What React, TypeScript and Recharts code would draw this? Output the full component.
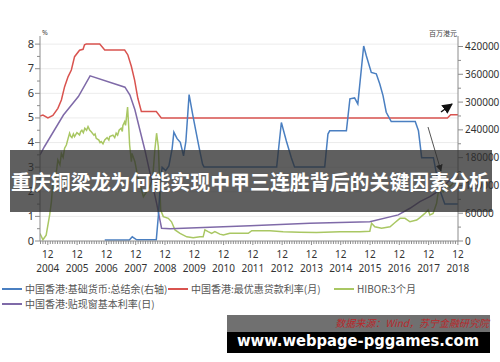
import { CartesianGrid, Line, LineChart, XAxis, YAxis } from 'recharts';

// 基础货币总结余 (百万港元, right axis)
const aggregateBalance: [number, number][] = [
  [2006.86, 2000], [2007.7, 2000], [2007.8, 9000], [2007.95, 2500],
  [2008.62, 2500], [2008.69, 54000], [2008.77, 134000], [2008.82, 159000], [2008.94, 152000],
  [2009.05, 162000], [2009.16, 199000], [2009.22, 235000], [2009.33, 221000], [2009.44, 213000],
  [2009.55, 184000], [2009.63, 215000], [2009.74, 316000], [2009.86, 274000], [2009.97, 238000],
  [2010.08, 202000], [2010.2, 166000], [2010.25, 160000], [2012.73, 160000], [2012.89, 256000],
  [2013.06, 216000], [2013.23, 180000], [2013.34, 160000], [2014.37, 160000], [2014.48, 231000],
  [2014.54, 238000], [2015.11, 238000], [2015.23, 307000], [2015.39, 309000], [2015.5, 296000],
  [2015.7, 421000], [2015.79, 400000], [2015.96, 364000], [2016.13, 361000], [2016.25, 339000],
  [2016.36, 314000], [2016.47, 278000], [2016.64, 258000], [2017.46, 258000], [2017.57, 238000],
  [2017.68, 180000], [2018.08, 180000], [2018.19, 144000], [2018.3, 110000], [2018.47, 80000],
  [2018.92, 80000],
];

// 最优惠贷款利率 (%)
const primeRate: [number, number][] = [
  [2004.65, 5.08], [2004.75, 5.12], [2004.92, 5.0], [2005.09, 5.1], [2005.26, 5.39],
  [2005.38, 5.73], [2005.49, 6.27], [2005.61, 6.68], [2005.72, 6.95], [2005.83, 7.49],
  [2006.0, 7.75], [2006.12, 7.79], [2006.17, 7.97], [2006.23, 8.0], [2006.69, 8.0],
  [2006.86, 7.76], [2007.54, 7.76], [2007.65, 7.56], [2007.77, 7.09], [2007.88, 6.54],
  [2007.99, 5.8], [2008.11, 5.26], [2008.62, 5.26], [2008.79, 5.0], [2018.56, 5.0],
  [2018.67, 5.13], [2018.92, 5.13],
];

// HIBOR 3个月 (%)
const hibor: [number, number][] = [
  [2004.65, 0.3], [2004.75, 0.05], [2004.86, 0.24], [2004.98, 1.06], [2005.04, 1.6],
  [2005.09, 2.41], [2005.15, 2.2], [2005.21, 2.82], [2005.26, 3.29], [2005.33, 3.1],
  [2005.38, 3.56], [2005.44, 3.4], [2005.49, 3.77], [2005.55, 3.9], [2005.61, 4.17],
  [2005.66, 4.38], [2005.7, 4.25], [2005.74, 4.2], [2005.79, 4.35], [2005.83, 4.24],
  [2005.91, 4.4], [2006.0, 4.31], [2006.04, 4.45], [2006.08, 4.5], [2006.13, 4.4],
  [2006.18, 4.58], [2006.24, 4.5], [2006.29, 4.65], [2006.35, 4.5], [2006.4, 4.44],
  [2006.49, 4.3], [2006.53, 4.35], [2006.57, 4.17], [2006.66, 4.1], [2006.7, 4.0],
  [2006.74, 4.04], [2006.8, 3.95], [2006.86, 4.11], [2006.94, 4.2], [2007.0, 4.1],
  [2007.03, 4.24], [2007.14, 4.3], [2007.2, 4.2], [2007.25, 4.38], [2007.3, 4.3],
  [2007.35, 4.5], [2007.42, 4.58], [2007.46, 4.45], [2007.48, 4.7], [2007.54, 4.85],
  [2007.57, 4.7], [2007.6, 5.0], [2007.64, 5.44], [2007.68, 4.6], [2007.71, 3.9],
  [2007.77, 3.22], [2007.79, 3.56], [2007.89, 3.22], [2007.99, 2.6], [2008.18, 1.8],
  [2008.4, 2.2], [2008.5, 2.6], [2008.57, 3.7], [2008.63, 4.38], [2008.69, 3.83],
  [2008.77, 1.26], [2008.86, 0.99], [2009.03, 0.92], [2009.14, 0.78], [2009.26, 0.45],
  [2009.43, 0.31], [2009.66, 0.17], [2009.88, 0.13], [2010.11, 0.17], [2010.22, 0.17],
  [2010.28, 0.45], [2010.39, 0.38], [2010.51, 0.31], [2010.62, 0.38], [2010.79, 0.28],
  [2010.91, 0.24], [2011.13, 0.31], [2011.48, 0.31], [2011.76, 0.31], [2011.88, 0.42],
  [2012.16, 0.42], [2012.5, 0.42], [2012.95, 0.38], [2013.52, 0.36], [2014.09, 0.35],
  [2014.89, 0.38], [2015.57, 0.38], [2015.91, 0.4], [2015.97, 0.72], [2016.08, 0.58],
  [2016.31, 0.52], [2016.6, 0.58], [2016.77, 0.75], [2016.94, 0.92], [2017.11, 0.92],
  [2017.28, 0.78], [2017.51, 0.85], [2017.62, 0.95], [2017.79, 1.12], [2017.9, 1.26],
  [2017.96, 1.06], [2018.07, 1.12], [2018.19, 1.53], [2018.24, 1.94], [2018.36, 2.07],
  [2018.41, 2.0], [2018.53, 2.3], [2018.64, 2.2], [2018.78, 2.4], [2018.9, 2.3],
];

// 贴现窗基本利率 (%)
const baseRate: [number, number][] = [
  [2004.65, 3.5], [2004.8, 3.83], [2005.45, 5.12], [2005.96, 5.87], [2006.36, 6.71],
  [2007.55, 6.25], [2007.72, 5.93], [2007.89, 5.33], [2008.06, 4.51], [2008.23, 3.7],
  [2008.63, 1.54], [2008.8, 0.52], [2009.09, 0.5], [2011.82, 0.62], [2013.86, 0.72],
  [2015.91, 0.78], [2016.88, 1.06], [2017.28, 1.33], [2017.62, 1.6], [2017.96, 1.8],
  [2018.3, 2.07], [2018.57, 2.4], [2018.92, 2.76],
];

const years = [2004, 2005, 2006, 2007, 2008, 2009, 2010, 2011, 2012, 2013, 2014, 2015, 2016, 2017, 2018];
const leftTicks = [0, 0.5, 1, 1.5, 2, 2.5, 3, 3.5, 4, 4.5, 5, 5.5, 6, 6.5, 7, 7.5, 8];
const rightTicks = [0, 30000, 60000, 90000, 120000, 150000, 180000, 210000, 240000, 270000, 300000, 330000, 360000, 390000, 420000];
const gridValues = [1, 2, 3, 4, 5, 6, 7, 8];

const legendRow1 = [
  { name: '中国香港:基础货币:总结余(右轴)', color: '#4a7fc1' },
  { name: '中国香港:最优惠贷款利率(月)', color: '#d9534f' },
  { name: 'HIBOR:3个月', color: '#a9c763' },
];
const legendRow2 = [{ name: '中国香港:贴现窗基本利率(日)', color: '#7f6aa8' }];

const title = '重庆铜梁龙为何能实现中甲三连胜背后的关键因素分析';

// monthly ticks, Sep 2004 .. Dec 2018
const monthTicks: number[] = [];
years.forEach((y) => {
  for (let m = 0; m < 12; m++) {
    const v = y + m / 12;
    if (v >= 2004.66 && v <= 2018.92) monthTicks.push(v);
  }
});

const toPts = (arr: [number, number][]) => arr.map(([x, y]) => ({ x, y }));

const FONT = '"Noto Sans", "Noto Sans CJK SC", sans-serif';
const AXIS = '#8c8c8c';

function XTick(props: any) {
  const { x, y, payload } = props;
  const v: number = payload.value;
  const yr = Math.floor(v + 1e-6);
  const isDec = Math.round((v - yr) * 12) === 11;
  return (
    <g>
      <line x1={x} x2={x} y1={y} y2={y + (isDec ? 4 : 3)} stroke={AXIS} />
      {isDec && (
        <>
          <text x={x} y={y + 17} textAnchor="middle" fontSize={10} fill="#333" fontFamily={FONT}>12</text>
          <text x={x} y={y + 31} textAnchor="middle" fontSize={10} fill="#333" fontFamily={FONT}>{yr}</text>
        </>
      )}
    </g>
  );
}

function LeftTick(props: any) {
  const { x, y, payload } = props;
  const v: number = payload.value;
  const major = Number.isInteger(v);
  return (
    <g>
      <line x1={x - (major ? 5 : 3)} x2={x} y1={y} y2={y} stroke={AXIS} />
      {major && (
        <text x={x - 6} y={y + 3.5} textAnchor="end" fontSize={11} fill="#333" fontFamily={FONT}>{v}</text>
      )}
    </g>
  );
}

function RightTick(props: any) {
  const { x, y, payload } = props;
  const v: number = payload.value;
  const major = v % 60000 === 0;
  return (
    <g>
      <line x1={x} x2={x + (major ? 5 : 3)} y1={y} y2={y} stroke={AXIS} />
      {major && (
        <text x={x + 7} y={y + 3.5} textAnchor="start" fontSize={10} fill="#333" fontFamily={FONT}>{v}</text>
      )}
    </g>
  );
}

function LegendItem({ name, color, left, top }: { name: string; color: string; left: number; top: number }) {
  return (
    <div style={{ position: 'absolute', left, top, display: 'flex', alignItems: 'center', whiteSpace: 'nowrap' }}>
      <span style={{ display: 'inline-block', width: 20, height: 2, background: color, marginRight: 3 }} />
      <span style={{ fontSize: 10, color: '#555', fontFamily: '"Noto Sans CJK SC", sans-serif', lineHeight: '12px' }}>{name}</span>
    </div>
  );
}

export default function App() {
  return (
    <div style={{ position: 'absolute', left: 0, top: 0, width: 500, height: 362, background: '#fff', overflow: 'hidden' }}>
      <LineChart width={500} height={362} margin={{ top: 36, right: 0, bottom: 91, left: 0 }}>
        <CartesianGrid yAxisId="l" vertical={false} horizontalValues={gridValues} stroke="#ececec" />
        <XAxis
          dataKey="x"
          type="number"
          domain={[2004.65, 2018.92]}
          allowDataOverflow
          ticks={monthTicks}
          interval={0}
          tick={<XTick />}
          tickLine={false}
          tickSize={0}
          tickMargin={0}
          height={30}
          axisLine={{ stroke: AXIS }}
        />
        <YAxis
          yAxisId="l"
          type="number"
          domain={[0, 8.33]}
          allowDataOverflow
          ticks={leftTicks}
          interval={0}
          tick={<LeftTick />}
          tickLine={false}
          tickSize={0}
          tickMargin={0}
          width={40}
          axisLine={{ stroke: AXIS }}
        />
        <YAxis
          yAxisId="r"
          orientation="right"
          type="number"
          domain={[0, 442700]}
          allowDataOverflow
          ticks={rightTicks}
          interval={0}
          tick={<RightTick />}
          tickLine={false}
          tickSize={0}
          tickMargin={0}
          width={42}
          axisLine={{ stroke: AXIS }}
        />
        <Line yAxisId="l" data={toPts(hibor)} dataKey="y" stroke="#a9c763" strokeWidth={1.5} dot={false} isAnimationActive={false} />
        <Line yAxisId="l" data={toPts(baseRate)} dataKey="y" stroke="#7f6aa8" strokeWidth={1.5} dot={false} isAnimationActive={false} />
        <Line yAxisId="l" data={toPts(primeRate)} dataKey="y" stroke="#d9534f" strokeWidth={1.5} dot={false} isAnimationActive={false} />
        <Line yAxisId="r" data={toPts(aggregateBalance)} dataKey="y" stroke="#4a7fc1" strokeWidth={1.5} dot={false} isAnimationActive={false} />
      </LineChart>

      {/* units, annotation arrows, title band, watermark */}
      <svg width={500} height={362} style={{ position: 'absolute', left: 0, top: 0, pointerEvents: 'none' }}>
        <defs>
          <marker id="ah" viewBox="0 0 10 10" refX="9" refY="5" markerWidth="7" markerHeight="7" orient="auto-start-reverse">
            <path d="M0,0 L10,5 L0,10 z" fill="#111" />
          </marker>
        </defs>
        <text x={42} y={35} fontSize={7} fill="#444" fontFamily={FONT}>%</text>
        <text x={457} y={36} fontSize={7} fill="#444" textAnchor="end" fontFamily='"Noto Sans CJK SC", sans-serif'>百万港元</text>
        <line x1={441} y1={112} x2={452} y2={104} stroke="#111" strokeWidth={1.5} markerEnd="url(#ah)" />
        <line x1={428} y1={127} x2={441} y2={171} stroke="#555" strokeWidth={1} markerEnd="url(#ah)" />
        <rect x={10} y={150} width={482} height={62} fill="rgba(45,45,45,0.76)" />
        <text x={11} y={190} fontSize={20} fontWeight="bold" fill="#fff" textLength={478} lengthAdjust="spacingAndGlyphs" fontFamily='"Noto Sans CJK SC", sans-serif'>{title}</text>
        <rect x={227} y={315} width={263} height={17} fill="#707070" />
        <rect x={227} y={332} width={263} height={21} fill="#000" />
        <text x={489} y={327} fontSize={10} fontStyle="italic" fill="#b8282c" textAnchor="end" fontFamily='"Noto Sans CJK SC", sans-serif'>数据来源：Wind，苏宁金融研究院</text>
        <text x={237} y={346} fontSize={16} fontWeight="bold" fill="#fff" textLength={242} lengthAdjust="spacingAndGlyphs" fontFamily='"DejaVu Sans", sans-serif'>www.webpage-pggames.com</text>
      </svg>

      <LegendItem name={legendRow1[0].name} color={legendRow1[0].color} left={2} top={283} />
      <LegendItem name={legendRow1[1].name} color={legendRow1[1].color} left={168} top={283} />
      <LegendItem name={legendRow1[2].name} color={legendRow1[2].color} left={334} top={283} />
      <LegendItem name={legendRow2[0].name} color={legendRow2[0].color} left={2} top={298} />
    </div>
  );
}
